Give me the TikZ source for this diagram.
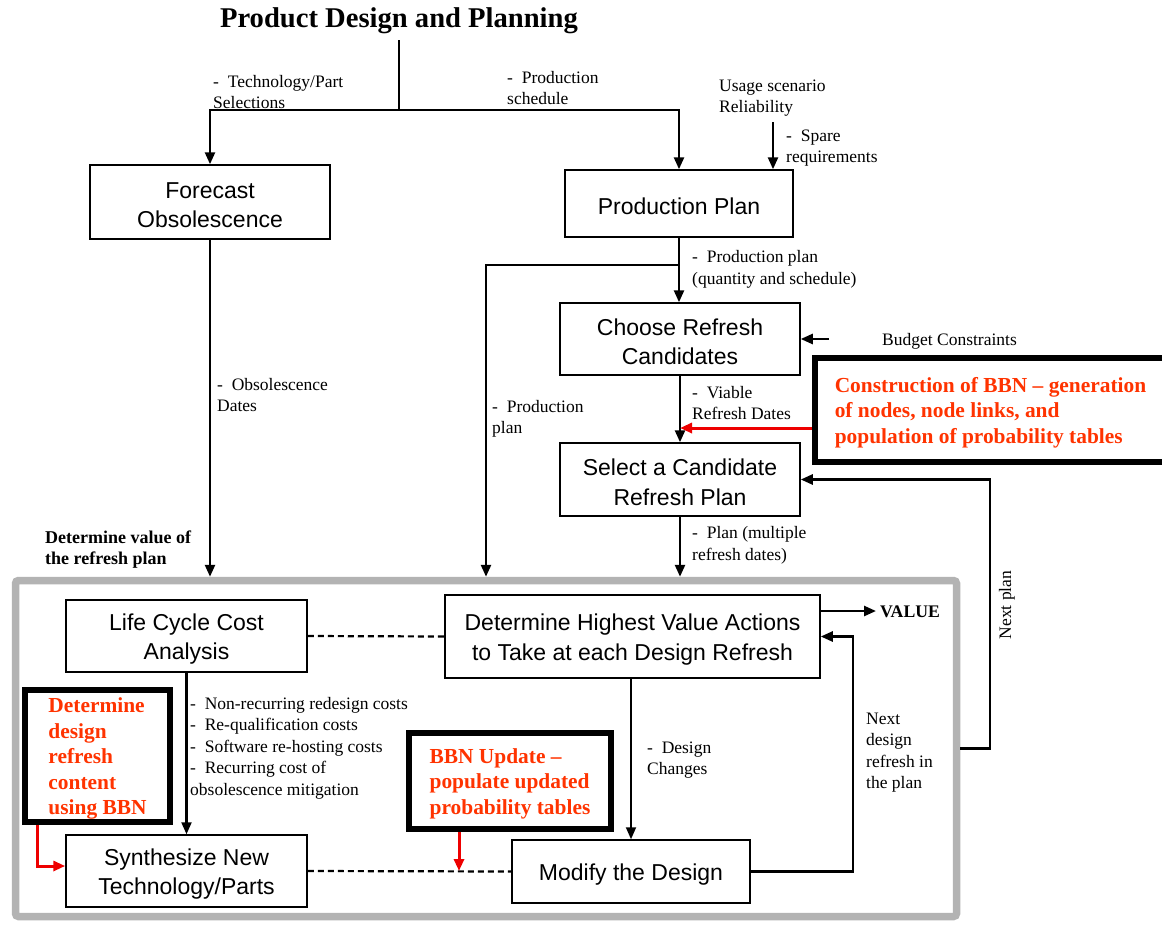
\documentclass[tikz,border=0pt]{standalone}
\usepackage{fontspec}
\setmainfont{Liberation Serif}
\newfontfamily\boxfont{Liberation Sans}
\usetikzlibrary{arrows.meta,calc}
\definecolor{bbntext}{RGB}{255,51,0}
\definecolor{bbnarrow}{RGB}{238,0,0}
\definecolor{framegray}{RGB}{179,179,179}

% taller first lines push the box texts a little lower
\newcommand\boxlift{\rule{0pt}{22.5pt}}
\newcommand\bbnlift{\rule{0pt}{20.5pt}}

\tikzset{
  procbox/.style={draw, line width=1.5pt, font=\boxfont\fontsize{23}{29.5}\selectfont,
    align=center, inner sep=0pt},
  bbnbox/.style={draw, line width=5.8pt, font=\bfseries\fontsize{21.4}{25.5}\selectfont,
    text=bbntext, align=left, inner sep=0pt},
  framebox/.style={draw=framegray, line width=7.5pt, rounded corners=3pt, inner sep=0pt},
  lbl/.style={font=\fontsize{17.5}{21.5}\selectfont, align=left, inner sep=0pt, anchor=west},
  boldlbl/.style={lbl, font=\bfseries\fontsize{18}{21}\selectfont},
  flow/.style={line width=2.5pt, -{Triangle[length=12pt,width=10pt]}},
  plain/.style={line width=2.5pt},
  link/.style={line width=2.2pt, dash pattern=on 6pt off 4pt},
  redflow/.style={line width=3pt, draw=bbnarrow, -{Triangle[length=12pt,width=10pt]}, color=bbnarrow},
}

\begin{document}
\begin{tikzpicture}[x=1pt, y=-1pt]
\useasboundingbox (0,0) rectangle (1162,924);

% outer frame of the value evaluation loop
\node[framebox, minimum width=941pt, minimum height=336pt] (gb) at (486,748.5) {};

% title
\node[font=\bfseries\fontsize{28.6}{34}\selectfont, inner sep=0pt] (title) at (399,21)
  {Product Design and Planning};

% process boxes
\node[procbox, minimum width=240pt, minimum height=74pt] (fo) at (210,202) {\boxlift Forecast\\Obsolescence};
\node[procbox, minimum width=228pt, minimum height=67pt] (pp) at (679,203.5) {\boxlift Production Plan};
\node[procbox, minimum width=240pt, minimum height=72pt] (cr) at (680,339) {\boxlift Choose Refresh\\Candidates};
\node[procbox, minimum width=240pt, minimum height=73pt] (sc) at (680,479.5) {\boxlift Select a Candidate\\Refresh Plan};
\node[procbox, minimum width=241pt, minimum height=72pt] (lc) at (186.5,636) {\boxlift Life Cycle Cost\\Analysis};
\node[procbox, minimum width=375pt, minimum height=83pt] (dh) at (632.5,636.5)
  {\boxlift Determine Highest Value Actions\\to Take at each Design Refresh};
\node[procbox, minimum width=238pt, minimum height=63pt] (md) at (631,871.5) {\boxlift Modify the Design};
\node[procbox, minimum width=241pt, minimum height=72pt] (sy) at (186.5,871) {\boxlift Synthesize New\\Technology/Parts};

% BBN boxes
\node[bbnbox, minimum width=351pt, minimum height=104pt] (bbn1) at (990.5,410)
  {\bbnlift Construction of BBN -- generation\\of nodes, node links, and\\population of probability tables};
\node[bbnbox, minimum width=202pt, minimum height=96pt] (bbn2) at (510,781)
  {\bbnlift BBN Update --\\populate updated\\probability tables};
\node[bbnbox, minimum width=145pt, minimum height=132pt] (bbn3) at (97.5,756)
  {\bbnlift Determine\\design\\refresh\\content\\using BBN};

% labels
\node[lbl] (l1) at (213,92) {-~~Technology/Part\\Selections};
\node[lbl] (l2) at (507,88) {-~~Production\\schedule};
\node[lbl] (l3) at (719,98) {Usage scenario\\Reliability};
\node[lbl] (l4) at (786,148) {-~~Spare\\requirements};
\node[lbl] (l5) at (692,269.5) {-~~Production plan\\(quantity and schedule)};
\node[lbl] (l6) at (882,341) {Budget Constraints};
\node[lbl] (l7) at (692,403) {-~~Viable\\Refresh Dates};
\node[lbl] (l8) at (492,419) {-~~Production\\plan};
\node[lbl] (l9) at (217,395) {-~~Obsolescence\\Dates};
\node[lbl] (l10) at (692,545.5) {-~~Plan (multiple\\refresh dates)};
\node[boldlbl] (l11) at (45,550) {Determine value of\\the refresh plan};
\node[lbl] (l12) at (647,760) {-~~Design\\Changes};
\node[lbl] (l13) at (866,752.5) {Next\\design\\refresh in\\the plan};
\node[lbl] (l14) at (190,748) {-~~Non-recurring redesign costs\\-~~Re-qualification costs\\-~~Software re-hosting costs\\-~~Recurring cost of\\obsolescence mitigation};
\node[lbl, anchor=center, rotate=90] (l15) at (1007,605) {Next plan};
\node[font=\bfseries\fontsize{17.7}{20}\selectfont, anchor=west, inner sep=0pt] (val) at (880,612) {VALUE};

% junction points
\coordinate (j1) at (399,110);
\coordinate (j2) at (pp.south |- 0,265);
\coordinate (us) at (773,122);
\coordinate (bc) at (829,339);
\coordinate (np) at (990,480);
\coordinate (nd) at (853,750);

% connectors
\draw[plain] ([yshift=-6pt]title.south) -- (j1);
\draw[flow] (j1) -| (fo.north);
\draw[flow] (j1) -| (pp.north);
\draw[flow] (us) -- (us |- pp.north);
\draw[flow] (pp.south) -- (pp.south |- cr.north);
\draw[flow] (j2) -| (gb.north);
\draw[flow] (bc) -- (cr.east);
\draw[flow] (cr.south) -- (sc.north);
\draw[flow] (sc.south) -- (sc.south |- gb.north);
\draw[flow] (fo.south) -- (fo.south |- gb.north);
\draw[flow] (gb.east) -| (np |- sc.east) -- (sc.east);
\draw[link] (lc.east) -- (dh.west);
\draw[link] (sy.east) -- (md.west);
\draw[flow] (dh.east |- 0,611) -- ([xshift=-4pt]val.west |- 0,611);
\draw[flow] (md.east) -| (nd |- dh.east) -- (dh.east);
\draw[flow, line width=1.8pt] (md.north |- dh.south) -- (md.north);
\draw[flow, line width=2.2pt] (lc.south) -- (sy.north);

% BBN influence arrows
\draw[redflow] ([yshift=-18pt]bbn1.west) -- ([yshift=-18pt]bbn1.west -| sc.north);
\draw[redflow] ([xshift=-51pt]bbn2.south) -- ([xshift=-51pt]bbn2.south |- sy.east);
\draw[redflow] ([xshift=-60.5pt]bbn3.south) |- ([yshift=5pt]sy.west);
\end{tikzpicture}
\end{document}
